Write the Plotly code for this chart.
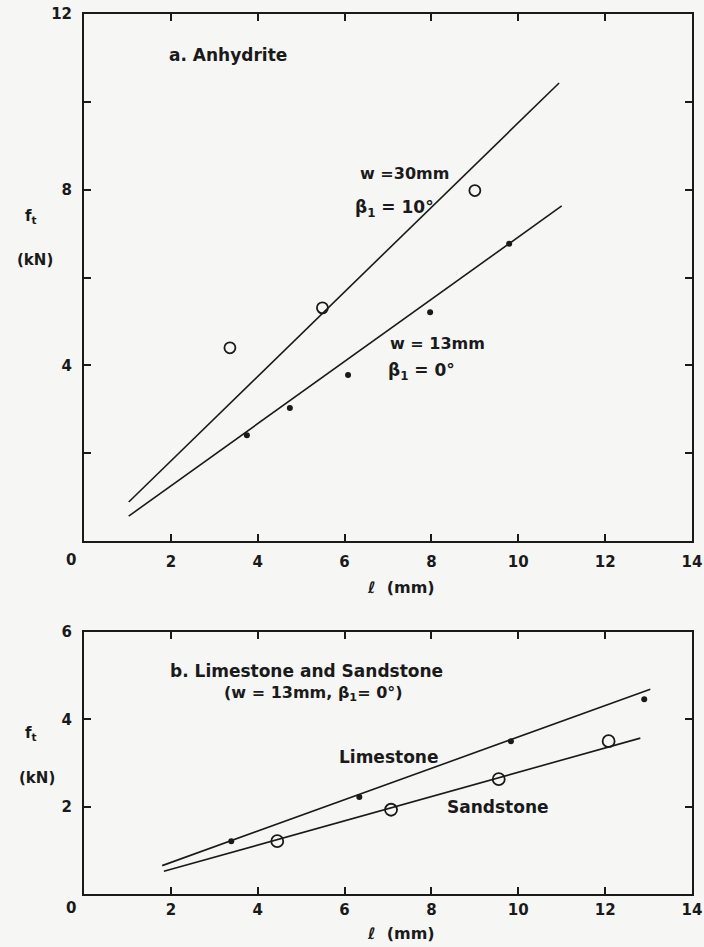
import plotly.graph_objects as go

# ---- Panel a: Anhydrite ----
anh30_l = [3.36, 5.49, 9.0]
anh30_f = [4.40, 5.31, 7.98]
anh13_l = [3.75, 4.74, 6.08, 7.97, 9.79]
anh13_f = [2.41, 3.03, 3.78, 5.21, 6.77]
anh30_fit_l = [1.03, 10.94]
anh30_fit_f = [0.89, 10.43]
anh13_fit_l = [1.03, 11.0]
anh13_fit_f = [0.57, 7.63]

# ---- Panel b: Limestone and Sandstone ----
lime_l = [3.39, 6.34, 9.83, 12.9]
lime_f = [1.21, 2.22, 3.50, 4.46]
sand_l = [4.45, 7.07, 9.55, 12.08]
sand_f = [1.21, 1.93, 2.63, 3.50]
lime_fit_l = [1.80, 13.04]
lime_fit_f = [0.65, 4.69]
sand_fit_l = [1.84, 12.81]
sand_fit_f = [0.52, 3.57]

x_ticks = [2, 4, 6, 8, 10, 12, 14]
x_ticktext = ["2", "4", "6", "8", "10", "12", "14"]
ya_ticks = [2, 4, 6, 8, 10, 12]
ya_ticktext = ["", "4", "", "8", "", "12"]
yb_ticks = [2, 4, 6]
yb_ticktext = ["2", "4", "6"]

FONT = "DejaVu Sans"
INK = "#1a1a1a"
BG = "#f6f6f4"

fig = go.Figure()

def line(x, y, xa, ya):
    fig.add_trace(go.Scatter(x=x, y=y, mode="lines", xaxis=xa, yaxis=ya,
                             line=dict(color=INK, width=1.6), showlegend=False,
                             hoverinfo="skip"))

def open_pts(x, y, xa, ya, size=11):
    fig.add_trace(go.Scatter(x=x, y=y, mode="markers", xaxis=xa, yaxis=ya,
                             marker=dict(symbol="circle-open", size=size, color=INK,
                                         line=dict(width=1.8, color=INK)),
                             showlegend=False))

def dot_pts(x, y, xa, ya, size=6):
    fig.add_trace(go.Scatter(x=x, y=y, mode="markers", xaxis=xa, yaxis=ya,
                             marker=dict(symbol="circle", size=size, color=INK),
                             showlegend=False))

line(anh30_fit_l, anh30_fit_f, "x", "y")
line(anh13_fit_l, anh13_fit_f, "x", "y")
open_pts(anh30_l, anh30_f, "x", "y")
dot_pts(anh13_l, anh13_f, "x", "y")

line(lime_fit_l, lime_fit_f, "x2", "y2")
line(sand_fit_l, sand_fit_f, "x2", "y2")
dot_pts(lime_l, lime_f, "x2", "y2")
open_pts(sand_l, sand_f, "x2", "y2", size=12)

axis_common = dict(showline=True, linecolor=INK, linewidth=2, mirror="ticks",
                   ticks="inside", ticklen=7, tickwidth=1.5, tickcolor=INK,
                   showgrid=False, zeroline=False, automargin=False,
                   tickfont=dict(family=FONT, size=15, color=INK, weight="bold"))

fig.update_layout(
    width=704, height=947,
    margin=dict(l=84, r=12, t=14, b=53),
    paper_bgcolor=BG, plot_bgcolor=BG,
    xaxis=dict(domain=[0, 1], anchor="y", range=[0, 14], tickvals=x_ticks,
               ticktext=x_ticktext, ticklabelstandoff=6, **axis_common),
    yaxis=dict(domain=[0.401, 1], anchor="x", range=[0, 12], tickvals=ya_ticks,
               ticktext=ya_ticktext, ticklabelstandoff=7, **axis_common),
    xaxis2=dict(domain=[0, 1], anchor="y2", range=[0, 14], tickvals=x_ticks,
                ticktext=x_ticktext, ticklabelstandoff=1, **axis_common),
    yaxis2=dict(domain=[0, 0.2977], anchor="x2", range=[0, 6], tickvals=yb_ticks,
                ticktext=yb_ticktext, ticklabelstandoff=7, **axis_common),
)

PW = 608.0  # plot width in px for domain conversion

def ann(text, x, y, xref, yref, size=16, xanchor="left", yshift=0):
    fig.add_annotation(text=text, x=x, y=y, xref=xref, yref=yref, showarrow=False,
                       xanchor=xanchor, yanchor="middle", yshift=yshift,
                       font=dict(family=FONT, size=size, color=INK, weight="bold"))

def outside(text, px, y, panel, size=15, yshift=0):
    # text placed left of the plot area; px = pixel x of its centre
    ann(text, (px - 84) / PW, y, panel[0] + " domain", panel[1], size=size,
        xanchor="center", yshift=yshift)

# Panel a texts
ann("a. Anhydrite", 1.91, 11.07, "x", "y", size=17)
ann("w =30mm", 6.31, 8.36, "x", "y")
ann("β<sub>1</sub> = 10°", 6.2, 7.58, "x", "y", size=17)
ann("w = 13mm", 7.0, 4.49, "x", "y")
ann("β<sub>1</sub> = 0°", 6.95, 3.87, "x", "y", size=17)
outside("f<sub>t</sub>", 31, 7.38, ("x", "y"))
outside("(kN)", 35, 6.40, ("x", "y"))
outside("0", 71, 0, ("x", "y"), yshift=-19)
ann("ℓ  (mm)", 7.3, 0, "x", "y", size=16, xanchor="center", yshift=-46)

# Panel b texts
ann("b. Limestone and Sandstone", 1.94, 5.10, "x2", "y2", size=17)
ann("(w = 13mm, β<sub>1</sub>= 0°)", 3.18, 4.60, "x2", "y2")
ann("Limestone", 5.83, 3.13, "x2", "y2", size=17)
ann("Sandstone", 8.32, 1.99, "x2", "y2", size=17)
outside("f<sub>t</sub>", 31, 3.68, ("x2", "y2"))
outside("(kN)", 37, 2.65, ("x2", "y2"))
outside("0", 71, 0, ("x2", "y2"), yshift=-14)
ann("ℓ  (mm)", 7.3, 0, "x2", "y2", size=16, xanchor="center", yshift=-39)

fig.write_html("out.html")
